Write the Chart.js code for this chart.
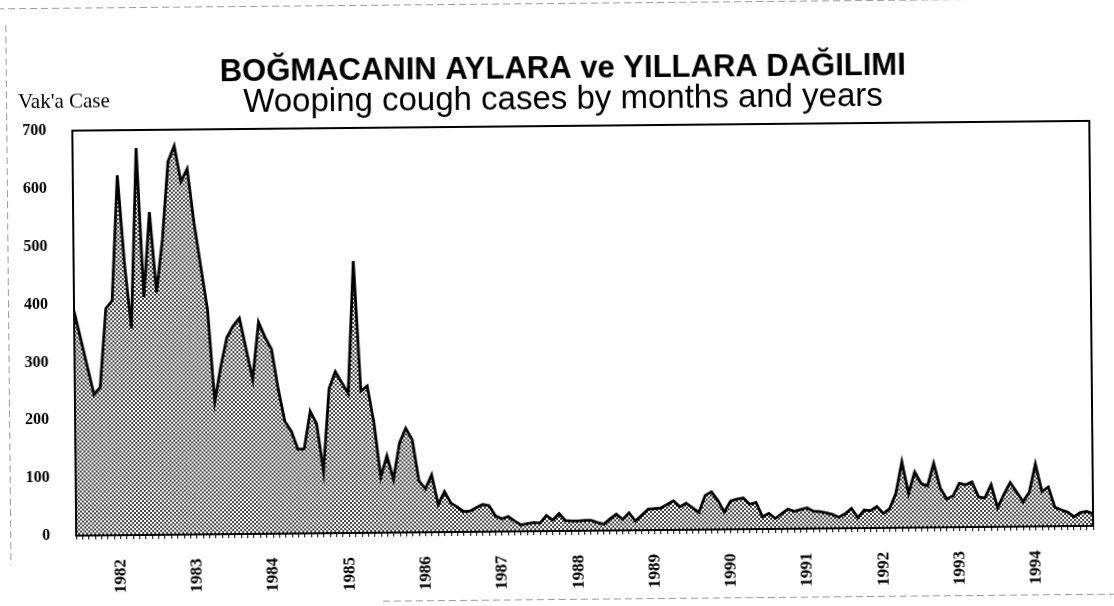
<!DOCTYPE html>
<html>
<head>
<meta charset="utf-8">
<script src="https://cdn.jsdelivr.net/npm/chart.js@4.4.1/dist/chart.umd.min.js"></script>
<style>
  html, body { margin: 0; padding: 0; background: #fff; overflow: hidden; }
  #wrap { width: 1114px; height: 606px; transform: rotate(-0.55deg); transform-origin: 557px 303px; }
  canvas { display: block; }
</style>
</head>
<body>
<div id="wrap"><canvas id="c" width="1114" height="606"></canvas></div>
<script>
// Monthly whooping cough cases, June 1981 – October 1994
const startYear = 1981;
const startMonth = 6; // June
const cases = [
  388, 340, 292, 244, 256, 392, 405, 622, 470, 357, 669, 411,
  558, 419, 510, 645, 672, 610, 632, 539, 463, 388, 229, 290,
  340, 360, 373, 320, 267, 366, 340, 319, 250, 194, 177, 146,
  146, 211, 189, 107, 250, 279, 260, 241, 470, 245, 254, 191,
  96, 133, 92, 155, 180, 161, 89, 75, 99, 48, 70, 50,
  43, 35, 36, 42, 47, 45, 27, 22, 26, 18, 11, 13,
  15, 14, 27, 19, 30, 18, 17, 17, 18, 18, 14, 11,
  20, 28, 19, 30, 16, 26, 36, 37, 38, 44, 50, 40,
  46, 38, 30, 59, 65, 50, 30, 49, 52, 54, 43, 46,
  21, 27, 18, 26, 34, 30, 33, 36, 30, 29, 27, 24,
  19, 25, 34, 18, 31, 30, 37, 25, 33, 59, 114, 59,
  96, 76, 72, 111, 68, 49, 54, 76, 73, 78, 52, 50,
  73, 33, 56, 76, 60, 43, 59, 108, 60, 68, 33, 28,
  24, 16, 23, 25, 21
];
const yTicks = [0, 100, 200, 300, 400, 500, 600, 700];
const titleText = 'BOĞMACANIN AYLARA ve YILLARA DAĞILIMI';
const subtitleText = 'Wooping cough cases by months and years';
const yAxisText = "Vak'a Case";

// category labels: year-month for every data point
const months = [];
for (let i = 0; i < cases.length; i++) {
  const m0 = startMonth - 1 + i;
  months.push({ y: startYear + Math.floor(m0 / 12), m: (m0 % 12) + 1 });
}
const monthLabels = months.map(d => d.y + '-' + String(d.m).padStart(2, '0'));

// stippled fill pattern
const pc = document.createElement('canvas');
pc.width = 4; pc.height = 4;
const pctx = pc.getContext('2d');
pctx.fillStyle = '#ffffff'; pctx.fillRect(0, 0, 4, 4);
pctx.fillStyle = '#454545'; pctx.fillRect(0, 0, 2, 2); pctx.fillRect(2, 2, 2, 2);
const ctx0 = document.getElementById('c').getContext('2d');
const stipple = ctx0.createPattern(pc, 'repeat');

const decor = {
  id: 'decor',
  afterDraw(chart) {
    const ctx = chart.ctx;
    const a = chart.chartArea;
    ctx.save();
    // frame
    ctx.strokeStyle = '#000';
    ctx.lineWidth = 2;
    ctx.strokeRect(a.left, a.top, a.right - a.left, a.bottom - a.top);
    // titles
    ctx.fillStyle = '#000';
    ctx.textAlign = 'center';
    ctx.textBaseline = 'alphabetic';
    ctx.font = 'bold 31px "Liberation Sans", Arial, sans-serif';
    ctx.fillText(titleText, 565, 78);
    ctx.font = '33px "Liberation Sans", Arial, sans-serif';
    ctx.fillText(subtitleText, 565, 109);
    ctx.textAlign = 'left';
    ctx.font = '21px "Liberation Serif", "Times New Roman", serif';
    ctx.fillText(yAxisText, 20, 103);
    // faint scan edge lines
    ctx.strokeStyle = '#9a9a9a';
    ctx.lineWidth = 1;
    ctx.setLineDash([7, 4]);
    ctx.beginPath();
    ctx.moveTo(8.5, 20); ctx.lineTo(8.5, 560);
    ctx.moveTo(0, 3.5); ctx.lineTo(1114, 3.5);
    ctx.moveTo(380, 599.5); ctx.lineTo(1114, 599.5);
    ctx.stroke();
    ctx.restore();
  }
};

new Chart(ctx0, {
  type: 'line',
  data: {
    labels: monthLabels,
    datasets: [{
      data: cases,
      borderColor: '#000',
      borderWidth: 2.8,
      backgroundColor: stipple,
      fill: 'origin',
      pointRadius: 0,
      tension: 0
    }]
  },
  options: {
    responsive: false,
    animation: false,
    layout: { padding: { left: 0, top: 126, right: 23, bottom: 0 } },
    plugins: { legend: { display: false }, title: { display: false }, tooltip: { enabled: false } },
    scales: {
      x: {
        type: 'category',
        offset: false,
        afterFit(s) { s.height = 75; s.paddingLeft = 0; s.paddingRight = 0; },
        grid: { display: true, drawOnChartArea: false, drawTicks: true, tickLength: 4, color: '#000', lineWidth: 1 },
        border: { display: true, color: '#000', width: 2 },
        ticks: {
          autoSkip: false,
          maxRotation: 90,
          minRotation: 90,
          padding: 20,
          color: '#000',
          font: { family: '"Liberation Serif", "Times New Roman", serif', size: 17, weight: 'bold' },
          callback(value, index) {
            const d = months[index];
            return d.m === 1 ? String(d.y) : '';
          }
        }
      },
      y: {
        min: 0,
        max: 700,
        afterFit(s) { s.width = 74; s.paddingTop = 0; s.paddingBottom = 0; },
        afterBuildTicks(s) { s.ticks = yTicks.map(v => ({ value: v })); },
        grid: { display: false, drawTicks: false },
        border: { display: true, color: '#000', width: 2 },
        ticks: {
          padding: 26,
          color: '#000',
          font: { family: '"Liberation Serif", "Times New Roman", serif', size: 16, weight: 'bold' }
        }
      }
    }
  },
  plugins: [decor]
});
</script>
</body>
</html>
